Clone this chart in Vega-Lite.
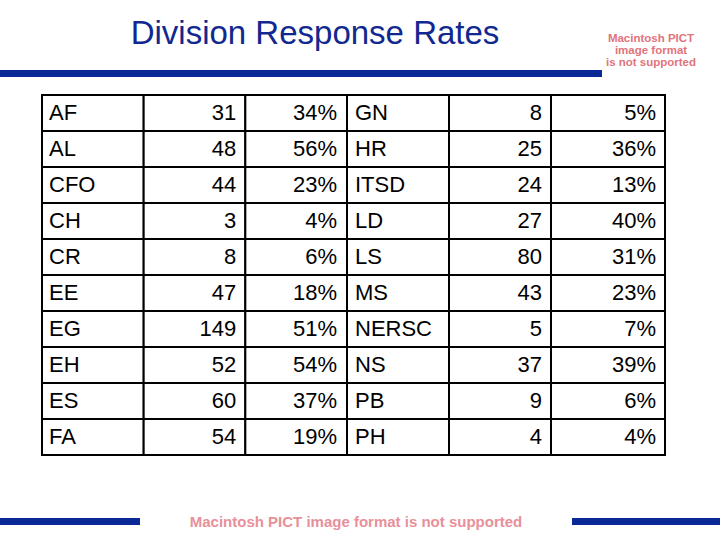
{
  "$schema": "https://vega.github.io/schema/vega-lite/v6.json",
  "padding": {"top": 18, "left": 0, "right": 0, "bottom": 15},
  "background": "white",
  "config": {"view": {"stroke": null}, "font": "Liberation Sans"},
  "datasets": {
    "rates": [
      {"division": "AF", "responses": 31, "rate": 0.34, "division2": "GN", "responses2": 8, "rate2": 0.05},
      {"division": "AL", "responses": 48, "rate": 0.56, "division2": "HR", "responses2": 25, "rate2": 0.36},
      {"division": "CFO", "responses": 44, "rate": 0.23, "division2": "ITSD", "responses2": 24, "rate2": 0.13},
      {"division": "CH", "responses": 3, "rate": 0.04, "division2": "LD", "responses2": 27, "rate2": 0.40},
      {"division": "CR", "responses": 8, "rate": 0.06, "division2": "LS", "responses2": 80, "rate2": 0.31},
      {"division": "EE", "responses": 47, "rate": 0.18, "division2": "MS", "responses2": 43, "rate2": 0.23},
      {"division": "EG", "responses": 149, "rate": 0.51, "division2": "NERSC", "responses2": 5, "rate2": 0.07},
      {"division": "EH", "responses": 52, "rate": 0.54, "division2": "NS", "responses2": 37, "rate2": 0.39},
      {"division": "ES", "responses": 60, "rate": 0.37, "division2": "PB", "responses2": 9, "rate2": 0.06},
      {"division": "FA", "responses": 54, "rate": 0.19, "division2": "PH", "responses2": 4, "rate2": 0.04}
    ],
    "banner": [{}]
  },
  "spacing": 17,
  "vconcat": [
    {
      "bounds": "flush",
      "spacing": 0,
      "hconcat": [
        {
          "width": 602,
          "height": 7,
          "data": {"name": "banner"},
          "title": {"text": "Division Response Rates", "fontSize": 33, "fontWeight": "normal", "font": "Liberation Sans", "color": "#10288f", "anchor": "middle", "dx": 14, "offset": 19},
          "mark": {"type": "rect", "color": "#0a2896"},
          "encoding": {}
        },
        {
          "width": 98,
          "height": 7,
          "data": {"name": "banner"},
          "title": {"text": ["Macintosh PICT", "image format", "is not supported"], "fontSize": 11.5, "fontWeight": "bold", "font": "Liberation Sans", "color": "#e2747c", "anchor": "middle", "lineHeight": 12, "offset": 2},
          "mark": {"type": "rect", "color": "white", "opacity": 0},
          "encoding": {}
        }
      ]
    },
    {
      "bounds": "flush",
      "spacing": 0,
      "hconcat": [
        {
          "width": 347,
          "height": 360,
          "data": {"name": "rates"},
          "encoding": {"y": {"field": "division", "type": "nominal", "sort": null, "scale": {"paddingInner": 0, "paddingOuter": 0}, "axis": null}},
          "layer": [
            {"mark": {"type": "rect", "fill": "white", "stroke": "black", "strokeWidth": 2},
             "encoding": {"x": {"datum": "division", "type": "nominal", "scale": {"domain": ["division", "responses", "rate"], "paddingInner": 0, "paddingOuter": 0.2066, "align": 1}, "axis": null}}},
            {"mark": {"type": "rect", "fill": "white", "stroke": "black", "strokeWidth": 2},
             "encoding": {"x": {"datum": "responses", "type": "nominal", "scale": {"domain": ["division", "responses", "rate"], "paddingInner": 0, "paddingOuter": 0.2066, "align": 1}, "axis": null}}},
            {"mark": {"type": "rect", "fill": "white", "stroke": "black", "strokeWidth": 2},
             "encoding": {"x": {"datum": "rate", "type": "nominal", "scale": {"domain": ["division", "responses", "rate"], "paddingInner": 0, "paddingOuter": 0.2066, "align": 1}, "axis": null}}},
            {"mark": {"type": "text", "align": "left", "dx": 7, "fontSize": 22, "color": "black"},
             "encoding": {"x": {"datum": "division", "type": "nominal", "bandPosition": 0, "scale": {"domain": ["division", "responses", "rate"], "paddingInner": 0, "paddingOuter": 0.2066, "align": 1}, "axis": null},
                          "text": {"field": "division", "type": "nominal"}}},
            {"mark": {"type": "text", "align": "right", "dx": -9, "fontSize": 22, "color": "black"},
             "encoding": {"x": {"datum": "responses", "type": "nominal", "bandPosition": 1, "scale": {"domain": ["division", "responses", "rate"], "paddingInner": 0, "paddingOuter": 0.2066, "align": 1}, "axis": null},
                          "text": {"field": "responses", "type": "quantitative"}}},
            {"mark": {"type": "text", "align": "right", "dx": -10, "fontSize": 22, "color": "black"},
             "encoding": {"x": {"datum": "rate", "type": "nominal", "bandPosition": 1, "scale": {"domain": ["division", "responses", "rate"], "paddingInner": 0, "paddingOuter": 0.2066, "align": 1}, "axis": null},
                          "text": {"field": "rate", "type": "quantitative", "format": ".0%"}}}
          ]
        },
        {
          "width": 204,
          "height": 360,
          "data": {"name": "rates"},
          "encoding": {"y": {"field": "division", "type": "nominal", "sort": null, "scale": {"paddingInner": 0, "paddingOuter": 0}, "axis": null}},
          "layer": [
            {"mark": {"type": "rect", "fill": "white", "stroke": "black", "strokeWidth": 2},
             "encoding": {"x": {"datum": "division2", "type": "nominal", "scale": {"domain": ["division2", "responses2"], "paddingInner": 0, "paddingOuter": 0}, "axis": null}}},
            {"mark": {"type": "rect", "fill": "white", "stroke": "black", "strokeWidth": 2},
             "encoding": {"x": {"datum": "responses2", "type": "nominal", "scale": {"domain": ["division2", "responses2"], "paddingInner": 0, "paddingOuter": 0}, "axis": null}}},
            {"mark": {"type": "text", "align": "left", "dx": 8, "fontSize": 22, "color": "black"},
             "encoding": {"x": {"datum": "division2", "type": "nominal", "bandPosition": 0, "scale": {"domain": ["division2", "responses2"], "paddingInner": 0, "paddingOuter": 0}, "axis": null},
                          "text": {"field": "division2", "type": "nominal"}}},
            {"mark": {"type": "text", "align": "right", "dx": -9, "fontSize": 22, "color": "black"},
             "encoding": {"x": {"datum": "responses2", "type": "nominal", "bandPosition": 1, "scale": {"domain": ["division2", "responses2"], "paddingInner": 0, "paddingOuter": 0}, "axis": null},
                          "text": {"field": "responses2", "type": "quantitative"}}}
          ]
        },
        {
          "width": 114,
          "height": 360,
          "data": {"name": "rates"},
          "encoding": {"y": {"field": "division", "type": "nominal", "sort": null, "scale": {"paddingInner": 0, "paddingOuter": 0}, "axis": null}},
          "layer": [
            {"mark": {"type": "rect", "fill": "white", "stroke": "black", "strokeWidth": 2},
             "encoding": {"x": {"datum": "rate2", "type": "nominal", "scale": {"domain": ["rate2"], "paddingInner": 0, "paddingOuter": 0}, "axis": null}}},
            {"mark": {"type": "text", "align": "right", "dx": -9, "fontSize": 22, "color": "black"},
             "encoding": {"x": {"datum": "rate2", "type": "nominal", "bandPosition": 1, "scale": {"domain": ["rate2"], "paddingInner": 0, "paddingOuter": 0}, "axis": null},
                          "text": {"field": "rate2", "type": "quantitative", "format": ".0%"}}}
          ]
        }
      ]
    },
    {"width": 720, "height": 24, "data": {"name": "banner"}, "mark": {"type": "rect", "color": "white", "opacity": 0}, "encoding": {}},
    {
      "bounds": "flush",
      "spacing": 0,
      "hconcat": [
        {"width": 140, "height": 7, "data": {"name": "banner"}, "mark": {"type": "rect", "color": "#0a2896"}, "encoding": {}},
        {"width": 432, "height": 7, "data": {"name": "banner"}, "mark": {"type": "text", "text": "Macintosh PICT image format is not supported", "fontSize": 15, "fontWeight": "bold", "color": "#e8909a", "baseline": "middle"}, "encoding": {}},
        {"width": 148, "height": 7, "data": {"name": "banner"}, "mark": {"type": "rect", "color": "#0a2896"}, "encoding": {}}
      ]
    }
  ]
}
